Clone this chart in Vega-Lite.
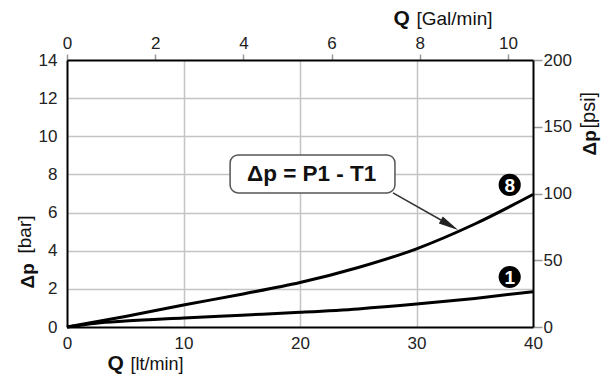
{
  "$schema": "https://vega.github.io/schema/vega-lite/v6.json",
  "width": 466,
  "height": 267,
  "autosize": {"type": "none"},
  "padding": {"left": 67, "top": 60, "right": 80, "bottom": 56},
  "background": "white",
  "config": {
    "view": {"stroke": null},
    "font": "Liberation Sans",
    "axis": {
      "labelFont": "Liberation Sans",
      "labelFontSize": 17,
      "labelColor": "#222222",
      "labelFlush": false,
      "labelOverlap": false,
      "labelBound": false,
      "titleFont": "Liberation Sans",
      "titleColor": "#111111",
      "titleAlign": "left",
      "titleBaseline": "alphabetic",
      "domainColor": "black",
      "domainWidth": 2,
      "grid": false
    },
    "axisY": {"labelOverlap": false},
    "axisLeft": {"labelOverlap": false}
  },
  "datasets": {
    "curves": [
      {"q": 0, "dp": 0, "series": "8"},
      {"q": 5, "dp": 0.55, "series": "8"},
      {"q": 10, "dp": 1.15, "series": "8"},
      {"q": 15, "dp": 1.72, "series": "8"},
      {"q": 20, "dp": 2.33, "series": "8"},
      {"q": 25, "dp": 3.12, "series": "8"},
      {"q": 30, "dp": 4.1, "series": "8"},
      {"q": 35, "dp": 5.4, "series": "8"},
      {"q": 40, "dp": 6.95, "series": "8"},
      {"q": 0, "dp": 0, "series": "1"},
      {"q": 2.5, "dp": 0.2, "series": "1"},
      {"q": 5, "dp": 0.31, "series": "1"},
      {"q": 10, "dp": 0.47, "series": "1"},
      {"q": 15, "dp": 0.62, "series": "1"},
      {"q": 20, "dp": 0.77, "series": "1"},
      {"q": 25, "dp": 0.95, "series": "1"},
      {"q": 30, "dp": 1.2, "series": "1"},
      {"q": 35, "dp": 1.5, "series": "1"},
      {"q": 40, "dp": 1.85, "series": "1"}
    ],
    "badges": [
      {"q": 38.0, "dp": 7.45, "label": "8"},
      {"q": 38.0, "dp": 2.62, "label": "1"}
    ],
    "box": [{"q": 14.0, "q2": 28.15, "dp": 9.02, "dp2": 7.03, "text": "Δp = P1 - T1", "qc": 21.0, "dpc": 8.0}],
    "arrow": [{"q": 27.98, "dp": 7.03, "q2": 32.1, "dp2": 5.61, "qh": 32.83, "dph": 5.35}],
    "dummy": [{"v": 0}]
  },
  "resolve": {"scale": {"x": "independent", "y": "independent"}},
  "layer": [
    {
      "layer": [
        {
          "data": {"name": "curves"},
          "mark": {"type": "line", "color": "black", "strokeWidth": 3, "interpolate": "monotone"},
          "encoding": {
            "x": {
              "field": "q", "type": "quantitative",
              "scale": {"domain": [0, 40], "nice": false},
              "axis": {
                "orient": "bottom", "values": [0, 10, 20, 30, 40], "ticks": false, "labelPadding": 8, "labelOverlap": false,
                "title": "Q", "titleFontSize": 21, "titleFontWeight": "bold", "titleX": 40, "titleY": 42
              }
            },
            "y": {
              "field": "dp", "type": "quantitative",
              "scale": {"domain": [0, 14], "nice": false},
              "axis": null
            },
            "detail": {"field": "series"}
          }
        },
        {
          "data": {"name": "box"},
          "mark": {"type": "rect", "fill": "white", "stroke": "#555555", "strokeWidth": 1.5, "cornerRadius": 8},
          "encoding": {
            "x": {"field": "q", "type": "quantitative"},
            "x2": {"field": "q2"},
            "y": {"field": "dp", "type": "quantitative"},
            "y2": {"field": "dp2"}
          }
        },
        {
          "data": {"name": "box"},
          "mark": {"type": "text", "fontSize": 22.5, "fontWeight": "bold", "color": "#111111", "align": "center", "baseline": "middle"},
          "encoding": {
            "x": {"field": "qc", "type": "quantitative"},
            "y": {"field": "dpc", "type": "quantitative"},
            "text": {"field": "text"}
          }
        },
        {
          "data": {"name": "arrow"},
          "mark": {"type": "rule", "color": "#333333", "strokeWidth": 1.5},
          "encoding": {
            "x": {"field": "q", "type": "quantitative"},
            "x2": {"field": "q2"},
            "y": {"field": "dp", "type": "quantitative"},
            "y2": {"field": "dp2"}
          }
        },
        {
          "data": {"name": "arrow"},
          "mark": {"type": "point", "shape": "M -1 -0.4 L 1 0 L -1 0.4 Z", "angle": 30, "size": 400, "filled": true, "color": "#222222", "opacity": 1},
          "encoding": {
            "x": {"field": "qh", "type": "quantitative"},
            "y": {"field": "dph", "type": "quantitative"}
          }
        },
        {
          "data": {"name": "badges"},
          "mark": {"type": "point", "shape": "circle", "size": 490, "filled": true, "color": "black", "opacity": 1},
          "encoding": {
            "x": {"field": "q", "type": "quantitative"},
            "y": {"field": "dp", "type": "quantitative"}
          }
        },
        {
          "data": {"name": "badges"},
          "mark": {"type": "text", "fontSize": 19, "fontWeight": "bold", "color": "white", "align": "center", "baseline": "middle", "dy": 1},
          "encoding": {
            "x": {"field": "q", "type": "quantitative"},
            "y": {"field": "dp", "type": "quantitative"},
            "text": {"field": "label"}
          }
        }
      ]
    },
    {
      "data": {"name": "dummy"},
      "mark": {"type": "rule", "opacity": 0},
      "encoding": {
        "y": {
          "field": "v", "type": "quantitative",
          "scale": {"domain": [0, 14], "nice": false},
          "axis": {
            "orient": "left", "values": [0, 2, 4, 6, 8, 10, 12, 14], "ticks": false, "labelPadding": 10, "labelOverlap": false,
            "title": "Δp", "titleFontSize": 19, "titleFontWeight": "bold", "titleAngle": -90, "titleX": -34, "titleY": 228
          }
        }
      }
    },
    {
      "data": {"name": "dummy"},
      "mark": {"type": "rule", "opacity": 0},
      "encoding": {
        "x": {
          "field": "v", "type": "quantitative",
          "scale": {"domain": [0, 10.567], "nice": false, "zero": false},
          "axis": {
            "orient": "top", "values": [0, 2, 4, 6, 8, 10], "ticks": true, "tickSize": 6, "tickColor": "#999999", "tickWidth": 1.5, "labelPadding": 2, "labelOverlap": false,
            "title": "Q", "titleFontSize": 21, "titleFontWeight": "bold", "titleX": 326, "titleY": -36
          }
        }
      }
    },
    {
      "data": {"name": "dummy"},
      "mark": {"type": "rule", "opacity": 0},
      "encoding": {
        "y": {
          "field": "v", "type": "quantitative",
          "scale": {"domain": [0, 200], "nice": false},
          "axis": {
            "orient": "right", "values": [0, 50, 100, 150, 200], "ticks": true, "tickSize": 9, "tickColor": "#999999", "tickWidth": 1.5, "labelPadding": 1, "labelOverlap": false,
            "title": "Δp", "titleFontSize": 19, "titleFontWeight": "bold", "titleAngle": -90, "titleX": 62, "titleY": 95
          }
        }
      }
    },
    {
      "data": {"name": "dummy"},
      "mark": {"type": "rule", "opacity": 0},
      "encoding": {
        "x": {
          "field": "v", "type": "quantitative",
          "scale": {"domain": [0, 40], "nice": false},
          "axis": {
            "orient": "bottom", "values": [10, 20, 30], "labels": false, "ticks": false, "domain": false,
            "grid": true, "gridColor": "#c4c4c4", "gridWidth": 1.5,
            "title": "[lt/min]", "titleFontSize": 18, "titleFontWeight": "normal", "titleX": 63, "titleY": 42
          }
        }
      }
    },
    {
      "data": {"name": "dummy"},
      "mark": {"type": "rule", "opacity": 0},
      "encoding": {
        "y": {
          "field": "v", "type": "quantitative",
          "scale": {"domain": [0, 14], "nice": false},
          "axis": {
            "orient": "left", "values": [2, 4, 6, 8, 10, 12], "labels": false, "ticks": false, "domain": false,
            "grid": true, "gridColor": "#c4c4c4", "gridWidth": 1.5,
            "title": "[bar]", "titleFontSize": 19, "titleFontWeight": "normal", "titleAngle": -90, "titleX": -37, "titleY": 193
          }
        }
      }
    },
    {
      "data": {"name": "dummy"},
      "mark": {"type": "rule", "opacity": 0},
      "encoding": {
        "x": {
          "field": "v", "type": "quantitative",
          "scale": {"domain": [0, 40], "nice": false},
          "axis": {
            "orient": "top", "labels": false, "ticks": false, "domain": false,
            "title": "[Gal/min]", "titleFontSize": 19, "titleFontWeight": "normal", "titleX": 349, "titleY": -36
          }
        }
      }
    },
    {
      "data": {"name": "dummy"},
      "mark": {"type": "rule", "opacity": 0},
      "encoding": {
        "y": {
          "field": "v", "type": "quantitative",
          "scale": {"domain": [0, 14], "nice": false},
          "axis": {
            "orient": "right", "labels": false, "ticks": false, "domain": false,
            "title": "[psi]", "titleFontSize": 20, "titleFontWeight": "normal", "titleAngle": -90, "titleX": 61, "titleY": 68
          }
        }
      }
    }
  ]
}
